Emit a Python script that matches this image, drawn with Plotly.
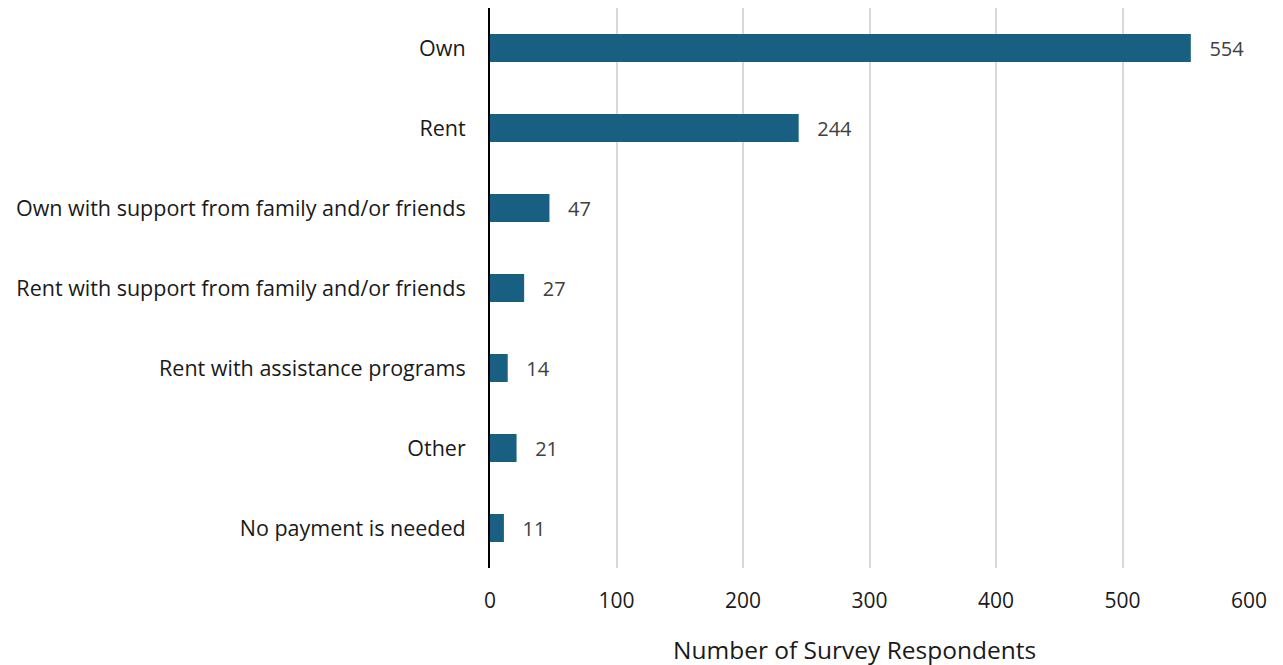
import plotly.graph_objects as go

categories = ["Own", "Rent", "Own with support from family and/or friends",
              "Rent with support from family and/or friends",
              "Rent with assistance programs", "Other", "No payment is needed"]
values = [554, 244, 47, 27, 14, 21, 11]
tick_vals = [0, 100, 200, 300, 400, 500, 600]
x_title = "Number of Survey Respondents"

FONT = "Open Sans"

fig = go.Figure(go.Bar(
    x=values, y=categories, orientation="h",
    marker=dict(color="#185F81", line=dict(width=0)),
    width=0.35,
    texttemplate="\u00a0\u00a0\u00a0%{x}", textposition="outside",
    textfont=dict(family=FONT, size=20, color="#404040"),
    cliponaxis=False,
))

fig.update_layout(
    width=1283, height=665,
    margin=dict(l=482, r=42, t=0, b=105, autoexpand=False),
    paper_bgcolor="white", plot_bgcolor="white",
    showlegend=False,
    font=dict(family=FONT, color="#1a1a1a"),
)
fig.add_annotation(
    text=x_title, xref="paper", yref="paper", x=0.4796, y=-0.146,
    xanchor="center", yanchor="middle", showarrow=False,
    font=dict(family=FONT, size=24.5, color="#1a1a1a"),
)
fig.update_xaxes(
    range=[0, 600], tickvals=tick_vals, showgrid=True,
    gridcolor="#d9d9d9", gridwidth=2, zeroline=False, showline=False,
    tickfont=dict(family=FONT, size=21, color="#1a1a1a"),
    ticklabelstandoff=18,
)
fig.update_yaxes(
    categoryorder="array", categoryarray=categories[::-1],
    autorange=False, range=[-0.5, 6.5],
    showline=True, linecolor="black", linewidth=2, showgrid=False,
    zeroline=False, ticks="",
    tickfont=dict(family=FONT, size=21.5, color="#1a1a1a"),
    ticklabelstandoff=18,
)

fig.write_html("out.html")
